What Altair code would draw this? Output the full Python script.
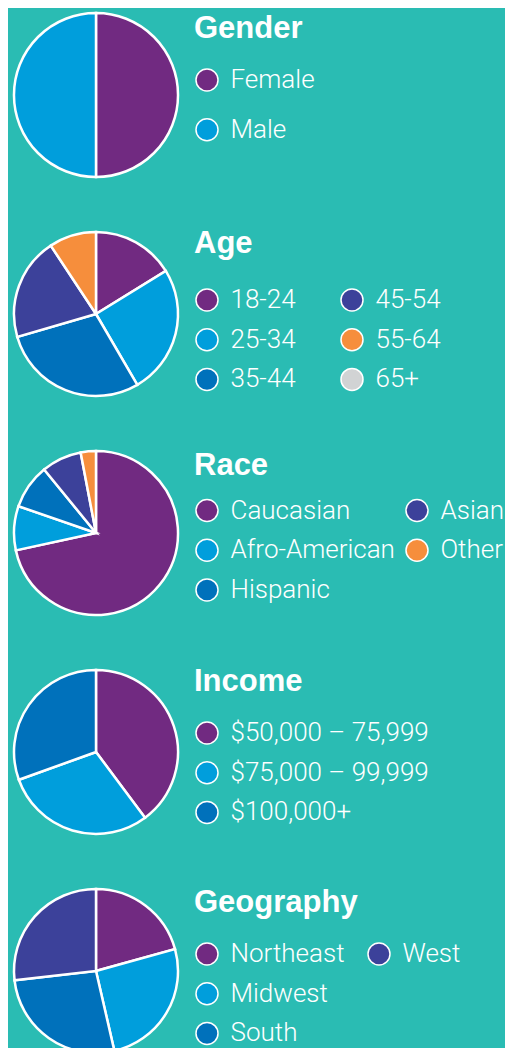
import altair as alt
import pandas as pd

BG = "#2abcb3"
PURPLE = "#712a81"
LIGHT_BLUE = "#009edc"
MID_BLUE = "#0071bb"
INDIGO = "#3c419a"
ORANGE = "#f68e3c"
GRAY = "#d1d3d4"

# ---- data (slices listed clockwise from 12 o'clock) ----
gender_cats = ["Female", "Male"]
gender_vals = [50, 50]
gender_colors = [PURPLE, LIGHT_BLUE]

age_cats = ["18-24", "25-34", "35-44", "45-54", "55-64", "65+"]
age_vals = [16.2, 25.4, 28.9, 20.2, 9.3, 0]
age_colors = [PURPLE, LIGHT_BLUE, MID_BLUE, INDIGO, ORANGE, GRAY]

race_cats = ["Caucasian", "Afro-American", "Hispanic", "Asian", "Other"]
race_vals = [71.6, 8.7, 8.8, 7.9, 3.0]
race_colors = [PURPLE, LIGHT_BLUE, MID_BLUE, INDIGO, ORANGE]

income_cats = ["$50,000 – 75,999", "$75,000 – 99,999", "$100,000+"]
income_vals = [39.8, 29.7, 30.5]
income_colors = [PURPLE, LIGHT_BLUE, MID_BLUE]

geo_cats = ["Northeast", "Midwest", "South", "West"]
geo_vals = [20.7, 25.7, 26.8, 26.8]
geo_colors = [PURPLE, LIGHT_BLUE, MID_BLUE, INDIGO]

# legend order (filled column by column); " " is an empty grid cell
geo_legend = ["Northeast", "Midwest", "South", "West", " "]

PIE_W, PIE_H, R = 176, 170, 82


def pie(title, cats, vals, colors, legend_order=None, columns=1,
        col_pad=10, row_pad=11.7, title_pad=24, ly=0):
    df = pd.DataFrame({"cat": cats, "val": vals, "idx": list(range(len(cats)))})
    df = df[df["val"] > 0]
    cmap = dict(zip(cats, colors))
    dom = legend_order if legend_order else cats
    rng = [cmap.get(c, BG) for c in dom]
    return (
        alt.Chart(df)
        .mark_arc(outerRadius=R, stroke="white", strokeWidth=2.5)
        .encode(
            theta=alt.Theta("val:Q", stack=True),
            order=alt.Order("idx:Q"),
            color=alt.Color(
                "cat:N",
                scale=alt.Scale(domain=dom, range=rng),
                legend=alt.Legend(
                    title=title,
                    orient="none",
                    legendX=186,
                    legendY=ly,
                    columns=columns,
                    columnPadding=col_pad,
                    rowPadding=row_pad,
                    titlePadding=title_pad,
                    symbolOpacity={"expr": "datum.value === ' ' ? 0 : 1"},
                ),
            ),
        )
        .properties(width=PIE_W, height=PIE_H)
    )


chart = (
    alt.vconcat(
        pie("Gender", gender_cats, gender_vals, gender_colors,
            row_pad=21.7, title_pad=22.5, ly=3.5),
        pie("Age", age_cats, age_vals, age_colors, None, 2, 42,
            title_pad=27, ly=0),
        pie("Race", race_cats, race_vals, race_colors, None, 2, 8,
            title_pad=16, ly=2.5),
        pie("Income", income_cats, income_vals, income_colors,
            title_pad=22, ly=0),
        pie("Geography", geo_cats, geo_vals, geo_colors, geo_legend, 2, 20,
            title_pad=22, ly=2),
        spacing=45,
    )
    .resolve_scale(color="independent")
    .properties(background=BG, padding={"left": 0, "top": 0, "right": 0, "bottom": 0})
    .configure_view(strokeWidth=0)
    .configure_legend(
        padding=0,
        titleColor="white",
        titleFont="Liberation Sans",
        titleFontSize=31,
        titleFontWeight="bold",
        titleLimit=400,
        labelColor="white",
        labelFont="Roboto",
        labelFontWeight=300,
        labelFontSize=26,
        labelOffset=10.5,
        labelLimit=400,
        symbolType="circle",
        symbolSize=484,
        symbolStrokeColor="white",
        symbolStrokeWidth=1.5,
    )
)

chart.save("out.html", embed_options={"renderer": "svg", "actions": False})
